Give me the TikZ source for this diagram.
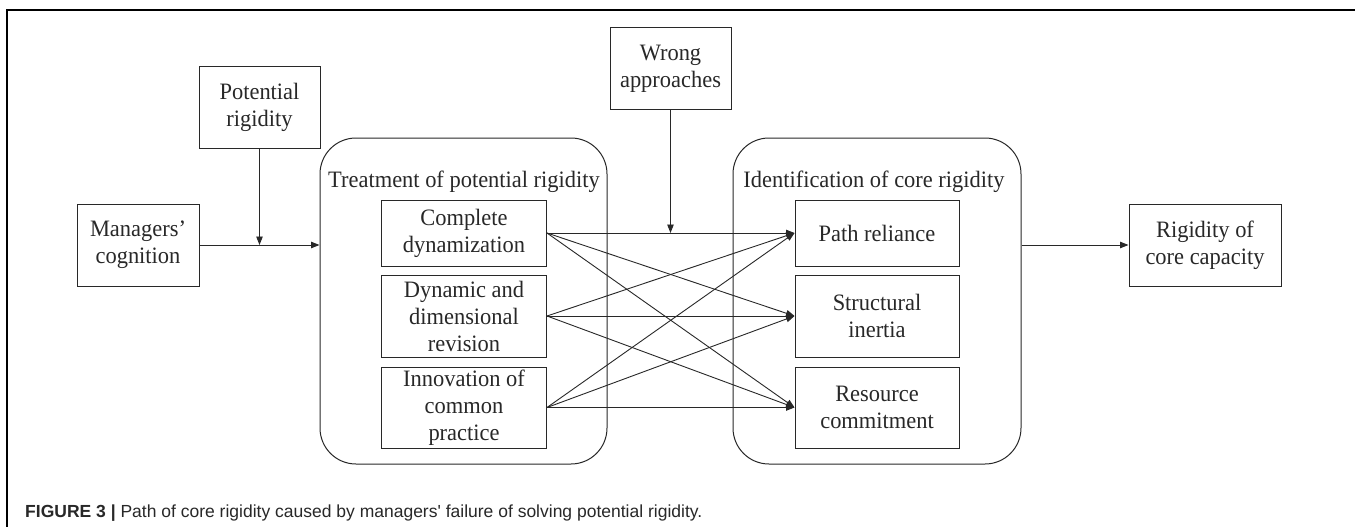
\documentclass[tikz,border=0pt]{standalone}
\usepackage{fontspec}
\setmainfont{Liberation Serif}[FakeStretch=0.955]
\newfontfamily\capfont{Liberation Sans}
\usetikzlibrary{arrows.meta,calc}
\definecolor{ink}{RGB}{40,40,40}
\begin{document}
\begin{tikzpicture}[x=1pt,y=-1pt,
  every node/.style={font=\fontsize{23.5}{27}\selectfont, text=ink},
  box/.style={draw=ink, line width=1pt, inner sep=0pt, align=center},
  group/.style={draw=ink, line width=1pt, rounded corners=36pt, inner sep=0pt},
  conn/.style={draw=ink, line width=0.9pt, -{Triangle[length=8.5pt,width=6.5pt]}},
  lbl/.style={inner sep=0pt}
]
\useasboundingbox (0,0) rectangle (1355,527);
\fill[white] (0,0) rectangle (1355,527);
% frame
\draw[line width=1.2pt, black] (7,527) -- (7,10) -- (1355,10);

% containers
\node[group, minimum width=287pt, minimum height=326pt] (tpr) at (463.5,301) {};
\node[group, minimum width=288pt, minimum height=326pt] (icr) at (877,301) {};
\node[lbl] (tprt) at (464,182) {Treatment of potential rigidity};
\node[lbl] (icrt) at (874,182) {Identification of core rigidity};

% outer boxes
\node[box, minimum width=121pt, minimum height=81pt] (pot) at (259.5,107.5) {Potential\\rigidity};
\node[box, minimum width=122pt, minimum height=82pt] (man) at (138,245) {Managers'\\cognition};
\node[box, minimum width=121pt, minimum height=81pt] (wrong) at (670.5,68.5) {Wrong\\approaches};
\node[box, minimum width=152pt, minimum height=82pt] (rig) at (1205,245) {Rigidity of\\core capacity};

% inner left boxes
\node[box, fill=white, minimum width=165pt, minimum height=66pt] (cd) at (464,233) {Complete\\dynamization};
\node[box, fill=white, minimum width=165pt, minimum height=82pt] (dd) at (464,316) {Dynamic and\\dimensional\\revision};
\node[box, fill=white, minimum width=165pt, minimum height=81pt] (ic) at (464,407.5) {Innovation of\\common\\practice};

% inner right boxes
\node[box, fill=white, minimum width=164pt, minimum height=66pt] (pr) at (877,233) {Path reliance};
\node[box, fill=white, minimum width=164pt, minimum height=82pt] (si) at (877,316) {Structural\\inertia};
\node[box, fill=white, minimum width=164pt, minimum height=81pt] (rc) at (877,407.5) {Resource\\commitment};

% connectors
\draw[conn] (man.east) -- (man.east -| tpr.west);
\draw[conn] (pot.south) -- (pot.south |- man.east);
\draw[conn] (wrong.south) -- (wrong.south |- cd.east);
\draw[conn] (rig.west -| icr.east) -- (rig.west);

\foreach \s in {cd,dd,ic}{
  \foreach \t in {pr,si,rc}{
    \draw[conn] (\s.east) -- (\t.west);
  }
}

% caption
\node[anchor=base west, inner sep=0pt, font=\capfont\fontsize{17.5}{21}\selectfont, text=ink] (cap) at (25,517)
  {\textbf{FIGURE 3} \textbf{|} Path of core rigidity caused by managers' failure of solving potential rigidity.};
\end{tikzpicture}
\end{document}
